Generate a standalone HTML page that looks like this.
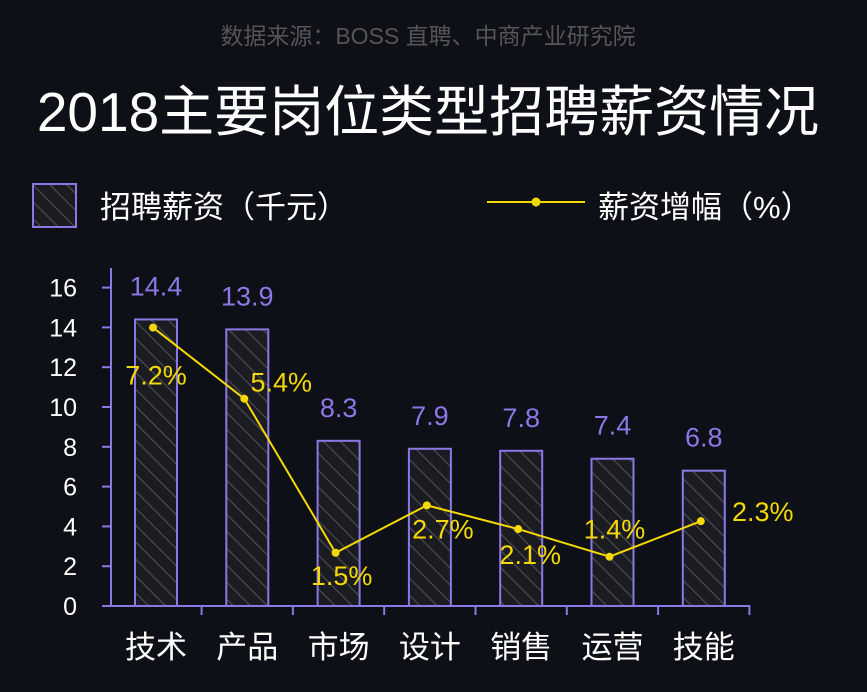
<!DOCTYPE html>
<html><head><meta charset="utf-8"><style>
body{margin:0;background:#0d1017;}
svg{display:block;font-family:"Liberation Sans","Noto Sans CJK SC",sans-serif;}
</style></head><body>
<svg id="c" width="867" height="692" viewBox="0 0 867 692">
<defs><pattern id="hatch" width="12" height="12" patternUnits="userSpaceOnUse" patternTransform="rotate(-45)"><rect width="12" height="12" fill="#1a1c22"/><line x1="0" y1="0" x2="0" y2="12" stroke="#4a4a50" stroke-width="2.5"/></pattern></defs>
<text x="428" y="44" text-anchor="middle" font-size="23" fill="#555">数据来源：BOSS 直聘、中商产业研究院</text>
<text x="428" y="131" text-anchor="middle" font-size="55" fill="#fff">2018主要岗位类型招聘薪资情况</text>
<g>
<rect x="33" y="184" width="43" height="43" fill="url(#hatch)" stroke="#8b78e6" stroke-width="2"/>
<text x="100" y="218" font-size="31" fill="#fff">招聘薪资（千元）</text>
<line x1="487" y1="202" x2="585" y2="202" stroke="#f5d800" stroke-width="2"/>
<circle cx="536" cy="202" r="4.5" fill="#f5d800"/>
<text x="598" y="218" font-size="31" fill="#fff">薪资增幅（%）</text>
</g>
<g id="plot"></g>
</svg>
<script>
const categories=["技术","产品","市场","设计","销售","运营","技能"];
const salary=[14.4,13.9,8.3,7.9,7.8,7.4,6.8];
const growth=[7.2,5.4,1.5,2.7,2.1,1.4,2.3];
const yTicks=[0,2,4,6,8,10,12,14,16];
const growthLabels=["7.2%","5.4%","1.5%","2.7%","2.1%","1.4%","2.3%"];
const NS="http://www.w3.org/2000/svg";
const g=document.getElementById('plot');
const x0=111,x1=750,y0=606;
const bx=i=>156+i*91.3;
const ys=v=>y0-v*19.9;
const yg=v=>612-v*39.5;
function mk(t,a,txt){const e=document.createElementNS(NS,t);for(const k in a)e.setAttribute(k,a[k]);if(txt!==undefined)e.textContent=txt;g.appendChild(e);return e;}
let e;
e=mk('line',{x1:x0,y1:268,x2:x0,y2:y0,stroke:'#8b78e6','stroke-width':2});


e=mk('line',{x1:x0,y1:y0,x2:x1,y2:y0,stroke:'#8b78e6','stroke-width':2});


yTicks.forEach(v=>{const y=ys(v);
e=mk('line',{x1:102,y1:y,x2:x0,y2:y,stroke:'#8b78e6','stroke-width':2});


e=mk('text',{x:77,y:y+9,'text-anchor':'end','font-size':25,fill:'#fff'},String(v));


});
categories.forEach((c,i)=>{const cx=bx(i);
e=mk('line',{x1:cx+45.6,y1:y0,x2:cx+45.6,y2:y0+9,stroke:'#8b78e6','stroke-width':2});


e=mk('rect',{x:cx-21,y:ys(salary[i]),width:42,height:y0-ys(salary[i]),fill:'url(#hatch)',stroke:'#8b78e6','stroke-width':2});


e=mk('text',{x:cx,y:ys(salary[i])-24,'text-anchor':'middle','font-size':27,fill:'#8b78e6'},String(salary[i]));


e=mk('text',{x:cx,y:658,'text-anchor':'middle','font-size':31,fill:'#fff'},c);


});
const pts=growth.map((v,i)=>bx(i)-3+','+yg(v)).join(' ');
e=mk('polyline',{points:pts,fill:'none',stroke:'#f5d800','stroke-width':2});


const off=[[3,57],[37,-7],[6,32],[16,33],[12,35],[5,-18],[62,0]];
growth.forEach((v,i)=>{const cx=bx(i)-3,cy=yg(v);
e=mk('circle',{cx:cx,cy:cy,r:4,fill:'#f5d800'});


e=mk('text',{x:cx+off[i][0],y:cy+off[i][1],'text-anchor':'middle','font-size':27,fill:'#f5d800'},growthLabels[i]);


});
</script>
</body></html>
